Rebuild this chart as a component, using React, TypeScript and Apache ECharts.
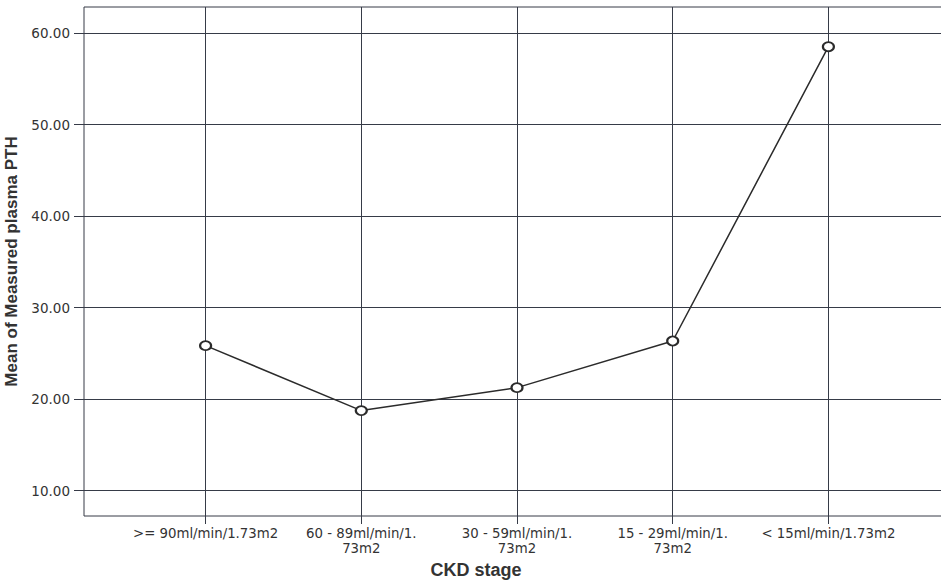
import React, { useEffect, useRef } from "react";
import * as echarts from "echarts";

const categories = [
  ">= 90ml/min/1.73m2",
  "60 - 89ml/min/1.\n73m2",
  "30 - 59ml/min/1.\n73m2",
  "15 - 29ml/min/1.\n73m2",
  "< 15ml/min/1.73m2",
];
const meanPTH = [25.85, 18.75, 21.26, 26.36, 58.53];
const yTicks = [10, 20, 30, 40, 50, 60];
const xTicks = [1, 2, 3, 4, 5];

export default function App() {
  const ref = useRef<HTMLDivElement>(null);
  useEffect(() => {
    if (!ref.current) return;
    const chart = echarts.init(ref.current, null, { renderer: "svg" });
    const gridColor = "#363b47";
    const textColor = "#333333";
    chart.setOption({
      animation: false,
      backgroundColor: "#ffffff",
      grid: {
        left: 84,
        top: 7,
        width: 866,
        height: 509,
        show: true,
        borderColor: gridColor,
        borderWidth: 1,
        containLabel: false,
        outerBoundsMode: "none",
      },
      xAxis: {
        type: "value",
        min: 0.219,
        max: 5.781,
        splitNumber: 5,
        axisLine: { show: false },
        axisTick: {
          show: true,
          customValues: xTicks,
          length: 8,
          lineStyle: { color: gridColor, width: 1 },
        },
        axisLabel: {
          customValues: xTicks,
          formatter: (v: number) => categories[Math.round(v) - 1] ?? "",
          color: textColor,
          fontFamily: "DejaVu Sans",
          fontSize: 13.3,
          lineHeight: 15,
          margin: 10,
          align: "center",
        },
        splitLine: { show: true, lineStyle: { color: gridColor, width: 1 } },
      },
      yAxis: {
        type: "value",
        min: 7.23,
        max: 62.87,
        splitNumber: 5,
        name: "Mean of Measured plasma PTH",
        nameLocation: "middle",
        nameRotate: 90,
        nameGap: 57,
        nameTextStyle: {
          color: textColor,
          fontFamily: "Liberation Sans",
          fontWeight: "bold",
          fontSize: 17,
        },
        axisLine: { show: false },
        axisTick: {
          show: true,
          customValues: yTicks,
          length: 10,
          lineStyle: { color: gridColor, width: 1 },
        },
        axisLabel: {
          customValues: yTicks,
          formatter: (v: number) => v.toFixed(2),
          color: textColor,
          fontFamily: "DejaVu Sans",
          fontSize: 13.5,
          margin: 14,
        },
        splitLine: { show: true, lineStyle: { color: gridColor, width: 1 } },
      },
      graphic: [
        {
          type: "text",
          x: 476,
          y: 570,
          style: {
            text: "CKD stage",
            fill: textColor,
            font: "bold 18px 'Liberation Sans'",
            align: "center",
            verticalAlign: "middle",
          },
        },
      ],
      series: [
        {
          type: "line",
          data: meanPTH.map((v, i) => [xTicks[i], v]),
          symbol: "emptyCircle",
          symbolSize: [11, 9],
          lineStyle: { color: "#2b2b2b", width: 1.5 },
          itemStyle: { color: "#2b2b2b", borderWidth: 1.2 },
          z: 5,
        },
      ],
    });
    return () => chart.dispose();
  }, []);
  return (
    <div
      ref={ref}
      style={{ position: "fixed", left: 0, top: 0, width: 941, height: 581 }}
    />
  );
}
